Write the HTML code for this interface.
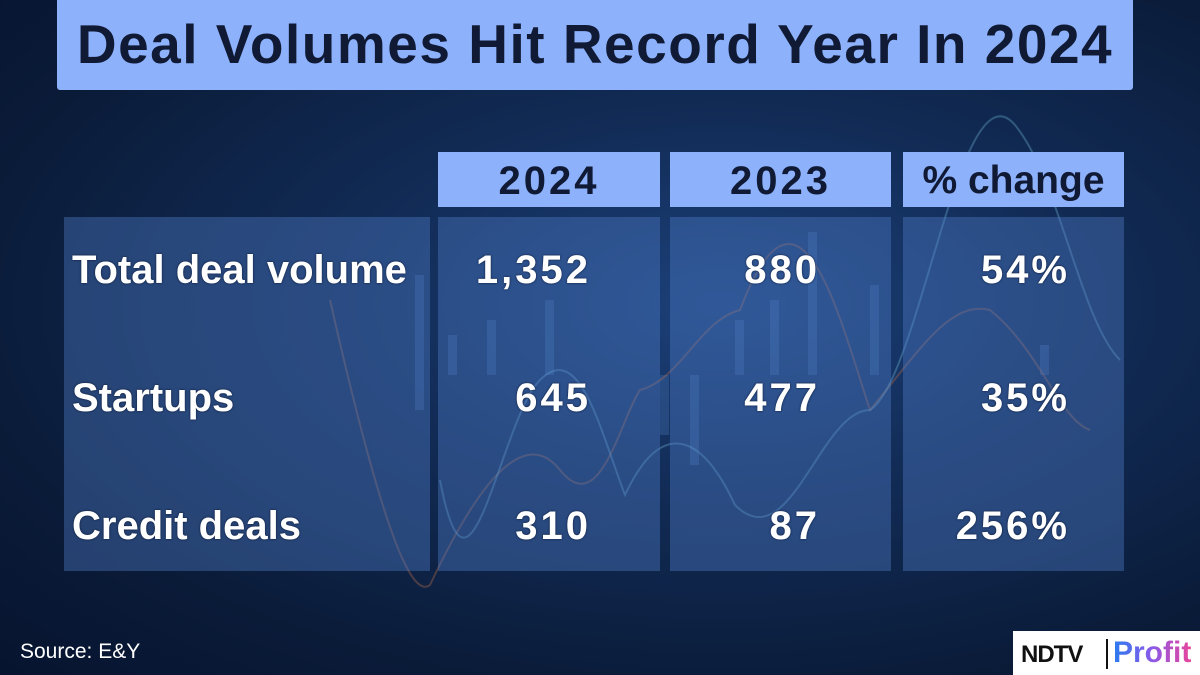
<!DOCTYPE html>
<html><head><meta charset="utf-8"><style>
body{margin:0;width:1200px;height:675px;overflow:hidden;font-family:"Liberation Sans",sans-serif;}
#bg{position:absolute;left:0;top:0;width:1200px;height:675px;background:radial-gradient(ellipse at 60% 45%,#1b4079 0%,#122c57 35%,#0a1b38 75%,#071430 100%);}
.abs{position:absolute;}
.title{left:57px;top:0;width:1076px;height:90px;background:#8db2fb;border-radius:0 0 3px 3px;color:#101a35;font-weight:bold;font-size:55px;letter-spacing:1.5px;text-align:center;line-height:88px;white-space:nowrap;}
.hdr{top:152px;height:55px;background:#8db2fb;color:#101a35;font-weight:bold;font-size:40px;text-align:center;line-height:58px;}
.panel{top:217px;height:354px;background:rgba(80,125,200,0.4);}
.txt{color:#fff;font-weight:bold;font-size:40px;text-shadow:0 0 2px #0a1530;white-space:nowrap;}
.num{text-align:right;width:200px;letter-spacing:3px;}
</style></head><body>
<div id="bg"></div>
<svg class="abs" style="left:0;top:0" width="1200" height="675">
<g fill="#4d7fc0" opacity="0.3">
<rect x="415" y="275" width="9" height="135"/><rect x="448" y="335" width="9" height="40"/><rect x="487" y="320" width="9" height="55"/><rect x="545" y="300" width="9" height="75"/><rect x="735" y="320" width="9" height="55"/><rect x="770" y="300" width="9" height="75"/><rect x="808" y="232" width="9" height="143"/><rect x="870" y="285" width="9" height="90"/><rect x="1040" y="345" width="9" height="30"/><rect x="660" y="375" width="9" height="60"/><rect x="690" y="375" width="9" height="90"/>
</g>
<path d="M330 300 C380 520 410 600 430 585 C470 500 520 420 560 470 C600 520 620 420 640 390 C680 380 700 320 740 310 C800 150 840 320 870 410 C920 350 950 300 990 310 C1040 350 1060 420 1090 430" stroke="#c0704a" stroke-width="2" fill="none" opacity="0.35"/>
<path d="M440 480 C470 640 500 420 540 380 C580 340 600 430 625 495 C660 420 700 430 735 505 C790 560 820 410 870 410 C920 380 960 60 1015 125 C1060 180 1080 320 1120 360" stroke="#6fb4d8" stroke-width="2" fill="none" opacity="0.35"/>
</svg>
<div class="abs title">Deal Volumes Hit Record Year In 2024</div>
<div class="abs hdr" style="left:438px;width:222px;letter-spacing:3px">2024</div>
<div class="abs hdr" style="left:670px;width:221px;letter-spacing:3px">2023</div>
<div class="abs hdr" style="left:903px;width:221px;font-size:39px">% change</div>
<div class="abs panel" style="left:64px;width:366px"></div>
<div class="abs panel" style="left:438px;width:222px"></div>
<div class="abs panel" style="left:670px;width:221px"></div>
<div class="abs panel" style="left:903px;width:221px"></div>

<div class="abs txt" style="left:72px;top:248px">Total deal volume</div>
<div class="abs txt" style="left:72px;top:376px">Startups</div>
<div class="abs txt" style="left:72px;top:504px">Credit deals</div>

<div class="abs txt num" style="left:391px;top:248px">1,352</div>
<div class="abs txt num" style="left:620px;top:248px">880</div>
<div class="abs txt num" style="left:870px;top:248px">54%</div>
<div class="abs txt num" style="left:391px;top:376px">645</div>
<div class="abs txt num" style="left:620px;top:376px">477</div>
<div class="abs txt num" style="left:870px;top:376px">35%</div>
<div class="abs txt num" style="left:391px;top:504px">310</div>
<div class="abs txt num" style="left:620px;top:504px">87</div>
<div class="abs txt num" style="left:870px;top:504px">256%</div>

<div class="abs" style="left:20px;top:640px;color:#fff;font-size:21px">Source: E&amp;Y</div>
<div class="abs" style="left:1013px;top:631px;width:187px;height:44px;background:#fff">
<span class="abs" style="left:8px;top:10px;font-size:24px;font-weight:bold;color:#111;letter-spacing:-1px">NDTV</span>
<span class="abs" style="left:93px;top:8px;width:2px;height:30px;background:#111"></span>
<span class="abs" style="left:100px;top:5px;font-size:30px;font-weight:bold;background:linear-gradient(90deg,#2a7bf0,#8a5ae8,#e8459c);-webkit-background-clip:text;color:transparent">Profit</span>
</div>
</body></html>
